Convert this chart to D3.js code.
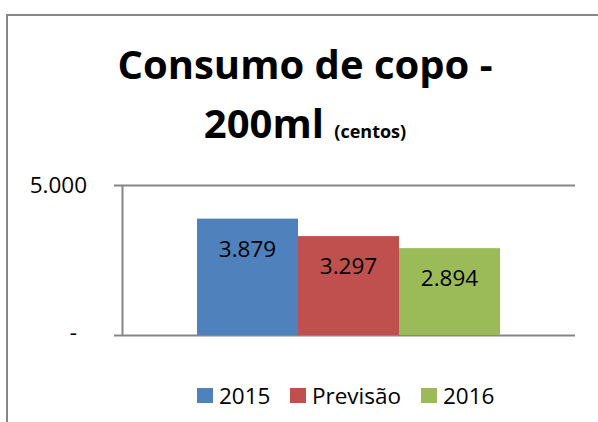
<!DOCTYPE html>
<html>
<head>
<meta charset="utf-8">
<script src="https://cdn.jsdelivr.net/npm/d3@7"></script>
<style>
  body { margin: 0; background: #fff; }
  text { font-family: "Open Sans", sans-serif; fill: #000; }
  .axis path, .axis line { stroke: #868686; stroke-width: 2; }
  .axis text { font-size: 22.5px; }
</style>
</head>
<body>
<script>
// data
var series = ["2015", "Previsão", "2016"];
var values = [3879, 3297, 2894];
var colors = ["#4f81bd", "#c0504d", "#9bbb59"];
var yTicks = [0, 5000];

var W = 598, H = 422;
var pt = d3.formatLocale({ decimal: ",", thousands: ".", grouping: [3], currency: ["R$", ""] });
var fmt = pt.format(",d");

var svg = d3.select("body").append("svg")
    .attr("width", W)
    .attr("height", H);

// chart area border (extends past the right / bottom edge)
svg.append("rect")
    .attr("x", 7).attr("y", 15)
    .attr("width", 700).attr("height", 500)
    .attr("fill", "#fff")
    .attr("stroke", "#868686")
    .attr("stroke-width", 2);

// title
var title = svg.append("text")
    .attr("text-anchor", "middle")
    .style("font-weight", "bold");
title.append("tspan")
    .attr("x", 305).attr("y", 79)
    .style("font-size", "40px")
    .text("Consumo de copo -");
var t2 = title.append("tspan")
    .attr("x", 305).attr("y", 138);
t2.append("tspan").style("font-size", "40px").text("200ml ");
t2.append("tspan").style("font-size", "18px").text("(centos)");

// plot
var plot = { left: 122, right: 575, top: 185, bottom: 335 };

var y = d3.scaleLinear()
    .domain([0, 5000])
    .range([plot.bottom, plot.top]);

var x0 = d3.scaleBand()
    .domain(["cat"])
    .range([plot.left, plot.right])
    .paddingInner(0)
    .paddingOuter(0.2475);

var x1 = d3.scaleBand()
    .domain(series)
    .range([x0("cat"), x0("cat") + x0.bandwidth()]);

var yAxis = svg.append("g")
    .attr("class", "axis")
    .attr("transform", "translate(" + plot.left + ",0)")
    .call(d3.axisLeft(y)
        .tickValues(yTicks)
        .tickSizeInner(-(plot.right - plot.left))
        .tickSizeOuter(0)
        .tickPadding(35)
        .tickFormat(function (d) { return d === 0 ? "-" : fmt(d); }));

yAxis.selectAll(".tick line").attr("x1", -8);
yAxis.selectAll(".tick text")
    .attr("dx", function (d) { return d === 0 ? -10 : 0; })
    .attr("dy", function (d) { return d === 0 ? "0.2em" : "0.32em"; });

// bars
var bars = svg.append("g");
bars.selectAll("rect")
    .data(values)
    .enter().append("rect")
    .attr("x", function (d, i) { return x1(series[i]); })
    .attr("y", function (d) { return y(d); })
    .attr("width", x1.bandwidth())
    .attr("height", function (d) { return y(0) - y(d); })
    .attr("fill", function (d, i) { return colors[i]; });

// value labels, inside end
bars.selectAll("text")
    .data(values)
    .enter().append("text")
    .attr("x", function (d, i) { return x1(series[i]) + x1.bandwidth() / 2; })
    .attr("y", function (d) { return y(d) + 38; })
    .attr("text-anchor", "middle")
    .style("font-size", "22.5px")
    .text(function (d) { return fmt(d); });

// legend
var legendX = [197, 290, 421];
var legend = svg.append("g");
var item = legend.selectAll("g")
    .data(series)
    .enter().append("g")
    .attr("transform", function (d, i) { return "translate(" + legendX[i] + ",388)"; });
item.append("rect")
    .attr("width", 16).attr("height", 15)
    .attr("fill", function (d, i) { return colors[i]; });
item.append("text")
    .attr("x", 22).attr("y", 16)
    .style("font-size", "22.5px")
    .text(function (d) { return d; });
</script>
</body>
</html>
